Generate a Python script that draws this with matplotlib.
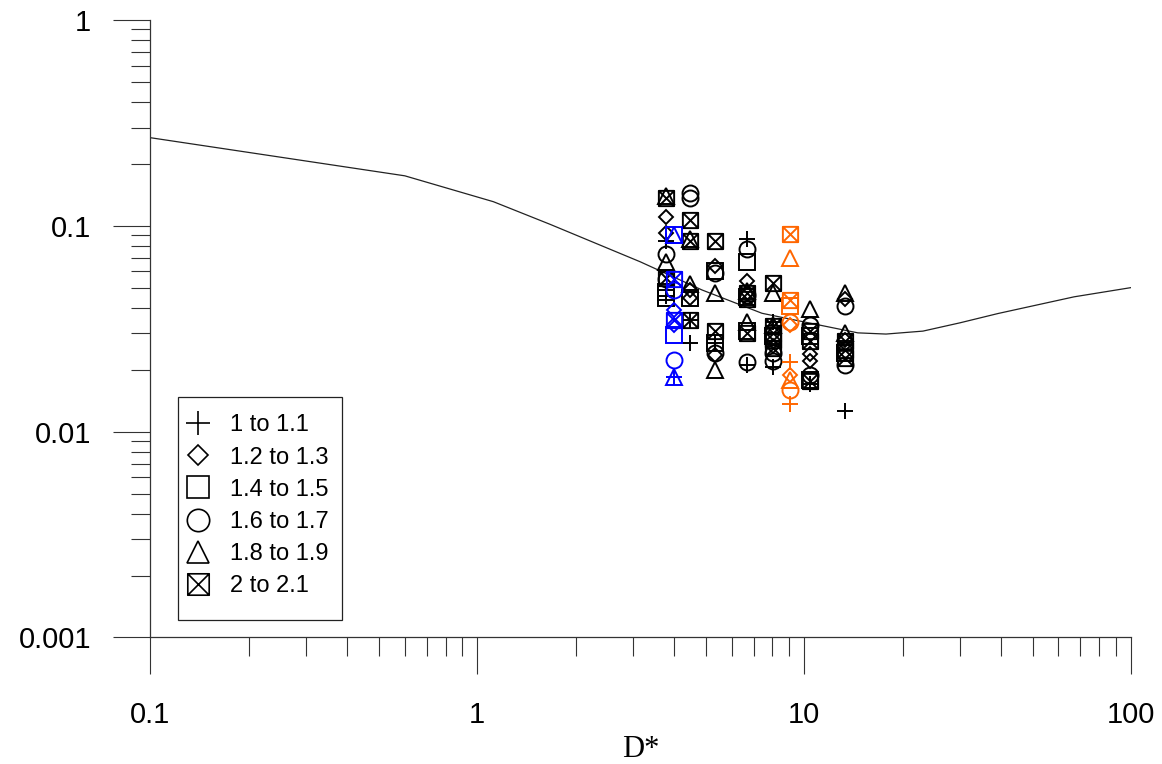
import numpy as np
import matplotlib
matplotlib.use("Agg")
import matplotlib.pyplot as plt
from matplotlib.path import Path
from matplotlib.lines import Line2D
from matplotlib.patches import Rectangle
from matplotlib.ticker import NullFormatter

plt.rcParams['font.family'] = ['Liberation Sans', 'DejaVu Sans']

# size classes shown in the legend
classes = ["1 to 1.1", "1.2 to 1.3", "1.4 to 1.5", "1.6 to 1.7", "1.8 to 1.9", "2 to 2.1"]

# threshold curve
curve_dstar = [0.1, 0.6, 1.12, 1.67, 3.15, 4.87, 7.43, 9.58, 14.6, 17.8, 23.1, 30.0, 39.2, 67.0, 100]
curve_theta = [0.268, 0.175, 0.131, 0.1017, 0.0669, 0.0488, 0.0376, 0.0346, 0.0302, 0.0298,
               0.0308, 0.0338, 0.0375, 0.0452, 0.0501]

# black points (class index into `classes`)
black_dstar = [3.77] * 12 + [4.48] * 12 + [5.34] * 11 + [6.70] * 14 + [8.05] * 13 + [10.4] * 11 + [13.3] * 11
black_theta = [
    0.140, 0.136, 0.111, 0.092, 0.084, 0.073, 0.067, 0.056, 0.055, 0.0475, 0.0445, 0.0455,
    0.145, 0.136, 0.107, 0.084, 0.086, 0.052, 0.049, 0.0445, 0.0445, 0.035, 0.035, 0.027,
    0.084, 0.064, 0.060, 0.059, 0.047, 0.031, 0.027, 0.027, 0.024, 0.0235, 0.0200,
    0.086, 0.077, 0.067, 0.054, 0.047, 0.048, 0.045, 0.046, 0.044, 0.034, 0.030, 0.031, 0.0217, 0.021,
    0.053, 0.047, 0.034, 0.033, 0.0325, 0.030, 0.029, 0.0279, 0.026, 0.0255, 0.0240, 0.022, 0.0205,
    0.0395, 0.033, 0.031, 0.0276, 0.029, 0.0238, 0.0220, 0.0188, 0.0176, 0.0178, 0.0170,
    0.047, 0.044, 0.041, 0.030, 0.0276, 0.028, 0.025, 0.0228, 0.021, 0.024, 0.0126,
]
black_cls = [
    4, 5, 1, 1, 0, 3, 4, 5, 3, 2, 2, 0,
    3, 3, 5, 5, 4, 4, 1, 2, 1, 5, 0, 0,
    5, 1, 2, 3, 4, 5, 2, 0, 3, 1, 4,
    0, 3, 2, 1, 5, 4, 2, 3, 5, 4, 5, 2, 3, 0,
    5, 4, 0, 4, 5, 5, 2, 5, 1, 5, 3, 3, 0,
    4, 3, 5, 5, 2, 1, 1, 3, 5, 2, 0,
    4, 1, 3, 4, 5, 1, 5, 5, 3, 2, 0,
]

# blue points
blue_dstar = [3.99] * 11
blue_theta = [0.090, 0.090, 0.055, 0.0487, 0.039, 0.035, 0.033, 0.0296, 0.0223, 0.0184, 0.0184]
blue_cls = [2, 4, 5, 3, 1, 5, 1, 2, 3, 4, 0]

# orange points
orange_dstar = [9.06] * 11
orange_theta = [0.091, 0.0696, 0.0436, 0.0408, 0.034, 0.033, 0.0218, 0.0188, 0.0178, 0.0160, 0.0137]
orange_cls = [5, 4, 5, 2, 3, 1, 0, 1, 4, 3, 0]

boxx = Path(
    [(-0.5, -0.5), (0.5, -0.5), (0.5, 0.5), (-0.5, 0.5), (-0.5, -0.5),
     (-0.5, -0.5), (0.5, 0.5), (-0.5, 0.5), (0.5, -0.5)],
    [Path.MOVETO, Path.LINETO, Path.LINETO, Path.LINETO, Path.CLOSEPOLY,
     Path.MOVETO, Path.LINETO, Path.MOVETO, Path.LINETO])
markers = [("+", 12), ("D", 7.6), ("s", 11), ("o", 11.5), ("^", 11.5), (boxx, 11)]

fig = plt.figure(figsize=(11.62, 7.64), dpi=100)
ax = fig.add_axes([0.1295, 0.1656, 0.8438, 0.8082])
ax.set_xscale('log')
ax.set_yscale('log')

ax.plot(curve_dstar, curve_theta, color='#222222', lw=0.9, zorder=1)


def draw_group(d, t, c, color):
    d = np.array(d)
    t = np.array(t)
    c = np.array(c)
    for k, (m, ms) in enumerate(markers):
        sel = c == k
        if sel.any():
            ax.plot(d[sel], t[sel], ls='none', marker=m, ms=ms, mfc='none',
                    mec=color, mew=1.4, zorder=3)


draw_group(black_dstar, black_theta, black_cls, 'black')
draw_group(blue_dstar, blue_theta, blue_cls, '#0000ff')
draw_group(orange_dstar, orange_theta, orange_cls, '#ff6600')

ax.set_xlim(0.1, 100)
ax.set_ylim(0.001, 1)
for s in ['top', 'right']:
    ax.spines[s].set_visible(False)
for s in ['left', 'bottom']:
    ax.spines[s].set_linewidth(0.9)
    ax.spines[s].set_color('#333333')

ax.set_xticks([0.1, 1, 10, 100], ['0.1', '1', '10', '100'])
ax.set_yticks([0.001, 0.01, 0.1, 1], ['0.001', '0.01', '0.1', '1'])
ax.xaxis.set_minor_formatter(NullFormatter())
ax.yaxis.set_minor_formatter(NullFormatter())
ax.tick_params(which='major', direction='out', length=26.6, width=0.8, color='#333333', labelsize=21)
ax.tick_params(which='minor', direction='out', length=13.7, width=0.8, color='#333333')
ax.tick_params(axis='x', which='major', pad=19)
ax.tick_params(axis='y', which='major', pad=16)

ax.set_xlabel('D*', family=['Liberation Serif', 'DejaVu Serif'], fontsize=22)
ax.xaxis.set_label_coords(0.5, -0.158)

# legend symbols are drawn larger than the data symbols
handles = [Line2D([], [], ls='none', marker=m, ms=ms * 1.4, mfc='none', mec='black', mew=1.2)
           for m, ms in markers]
leg = ax.legend(handles, classes, loc='upper left', bbox_to_anchor=(0.0342, 0.3613),
                frameon=False, fontsize=17, handlelength=1.2, handletextpad=0.76,
                labelspacing=0.43, borderpad=0, borderaxespad=0)
ax.add_patch(Rectangle((0.028, 0.0283), 0.167, 0.3612, transform=ax.transAxes,
                       fill=False, ec='#222222', lw=0.9, zorder=4))

fig.savefig('out.png', dpi=100)
